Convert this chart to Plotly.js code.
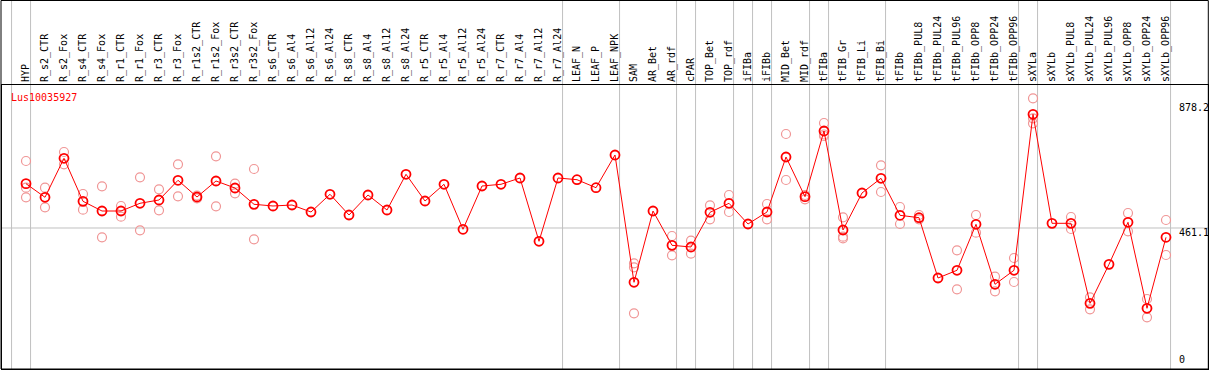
<!DOCTYPE html>
<html>
<head>
<meta charset="utf-8">
<script src="https://cdn.plot.ly/plotly-3.0.1.min.js"></script>
<style>html,body{margin:0;padding:0;background:#fff;}#chart{width:1209px;height:370px;}</style>
</head>
<body>
<div id="chart"></div>
<script>
// ---- data ----
const geneName = "Lus10035927";
const categories = ["HYP","R_s2_CTR","R_s2_Fox","R_s4_CTR","R_s4_Fox","R_r1_CTR","R_r1_Fox","R_r3_CTR","R_r3_Fox",
  "R_r1s2_CTR","R_r1s2_Fox","R_r3s2_CTR","R_r3s2_Fox","R_s6_CTR","R_s6_Al4","R_s6_Al12","R_s6_Al24",
  "R_s8_CTR","R_s8_Al4","R_s8_Al12","R_s8_Al24","R_r5_CTR","R_r5_Al4","R_r5_Al12","R_r5_Al24",
  "R_r7_CTR","R_r7_Al4","R_r7_Al12","R_r7_Al24","LEAF_N","LEAF_P","LEAF_NPK","SAM","AR_Bet","AR_rdf",
  "cPAR","TOP_Bet","TOP_rdf","iFIBa","iFIBb","MID_Bet","MID_rdf","tFIBa","tFIB_Gr","tFIB_Li","tFIB_Bi",
  "tFIBb","tFIBb_PUL8","tFIBb_PUL24","tFIBb_PUL96","tFIBb_OPP8","tFIBb_OPP24","tFIBb_OPP96",
  "sXYLa","sXYLb","sXYLb_PUL8","sXYLb_PUL24","sXYLb_PUL96","sXYLb_OPP8","sXYLb_OPP24","sXYLb_OPP96"];
const meanValues = [608.7,563.4,693.3,550.0,517.7,517.7,543.4,554.4,620.0,
  564.4,617.7,594.3,540.0,534.4,537.7,514.4,573.4,
  504.4,571.0,521.0,640.0,551.0,606.7,456.8,601.0,
  606.7,627.7,416.8,627.7,622.0,595.3,704.3,280.2,517.7,403.4,
  397.8,513.4,543.4,474.4,514.4,697.6,565.4,784.2,454.4,577.7,626.7,
  503.4,495.4,294.5,320.2,473.4,273.5,320.2,
  839.9,476.7,476.7,210.2,340.1,480.1,193.6,430.1];
// individual replicate measurements
const repCategories = ["HYP","HYP","HYP","R_s2_CTR","R_s2_CTR","R_s2_Fox","R_s2_Fox","R_s4_CTR","R_s4_CTR",
  "R_s4_Fox","R_s4_Fox","R_r1_CTR","R_r1_CTR","R_r1_Fox","R_r1_Fox","R_r3_CTR","R_r3_CTR","R_r3_Fox","R_r3_Fox",
  "R_r1s2_CTR","R_r1s2_CTR","R_r1s2_Fox","R_r1s2_Fox","R_r3s2_CTR","R_r3s2_CTR","R_r3s2_Fox","R_r3s2_Fox",
  "SAM","SAM","SAM","AR_rdf","AR_rdf","cPAR","cPAR","TOP_Bet","TOP_Bet","TOP_rdf","TOP_rdf","iFIBb","iFIBb",
  "MID_Bet","MID_Bet","MID_rdf","MID_rdf","tFIBa","tFIBa","tFIBa","tFIB_Gr","tFIB_Gr","tFIB_Gr","tFIB_Bi","tFIB_Bi",
  "tFIBb","tFIBb","tFIBb_PUL8","tFIBb_PUL8","tFIBb_PUL96","tFIBb_PUL96","tFIBb_OPP8","tFIBb_OPP8",
  "tFIBb_OPP24","tFIBb_OPP24","tFIBb_OPP96","tFIBb_OPP96","sXYLa","sXYLa","sXYLa",
  "sXYLb_PUL8","sXYLb_PUL8","sXYLb_PUL24","sXYLb_PUL24","sXYLb_OPP8","sXYLb_OPP8",
  "sXYLb_OPP24","sXYLb_OPP24","sXYLb_OPP96","sXYLb_OPP96"];
const repValues = [684.3,595.3,563.4,595.3,530.0,714.3,673.3,574.4,522.0,
  600.0,430.1,534.4,498.7,630.0,453.4,590.0,520.0,673.3,566.7,
  569.4,559.4,700.0,533.4,608.7,576.7,657.6,423.4,
  343.5,330.2,176.9,434.4,370.1,418.8,375.5,536.7,490.1,571.0,514.4,541.0,490.1,
  774.2,621.0,571.0,556.7,810.9,772.6,767.6,496.7,432.1,426.8,670.0,581.0,
  531.0,474.4,504.4,490.1,386.8,256.9,504.4,445.4,
  298.8,250.2,361.1,281.2,893.2,826.5,809.9,
  497.7,457.7,230.2,190.2,511.0,450.1,
  224.5,163.6,487.7,371.1];
// number of samples in each tissue group (separated by grey lines)
const groupSizes = [1,28,3,3,1,2,1,1,2,1,3,7,1,7];
const axisLabels = [878.2, 461.1, 0];
const refLine = 461.1;

// ---- layout helpers ----
const W = 1209, H = 370;
const mL = 2, mR = 1, mT = 85, mB = 1;
const plotH = H - mT - mB;
const grey = "rgb(192,192,192)";
const mono = "DejaVu Sans Mono, monospace";

const shapes = [];
// group separators
let edge = -1;
const seps = [edge];
groupSizes.forEach(g => { edge += g; seps.push(edge); });
seps.forEach(s => {
  shapes.push({type:"line", xref:"x", yref:"paper", x0:s+0.24, x1:s+0.24, y0:0, y1:(plotH+mT)/plotH,
    line:{color:grey, width:1}, layer:"below"});
});
// reference line
shapes.push({type:"line", xref:"paper", yref:"y", x0:0, x1:1, y0:refLine, y1:refLine,
  line:{color:grey, width:1}, layer:"below"});
// outer frame
shapes.push({type:"rect", xref:"paper", yref:"paper", x0:-1/1206, x1:1+0.3/1206, y0:0, y1:(plotH+mT-0.5)/plotH,
  line:{color:"#000", width:1}, fillcolor:"rgba(0,0,0,0)"});

const annotations = [
  {xref:"paper", yref:"paper", x:7/1206, y:(H-mB-97)/plotH, xanchor:"left", yanchor:"middle",
   text:geneName, showarrow:false, font:{family:mono, size:10, color:"red"}}
];
axisLabels.forEach(v => {
  annotations.push({xref:"paper", yref:"y", x:(1178-mL)/1206, y:v, xanchor:"left",
    yanchor: v === 0 ? "bottom" : "top", yshift: v === 0 ? 0 : 2, text:String(v), showarrow:false,
    font:{family:mono, size:10, color:"#000"}, borderpad:0});
});

const traces = [
  {type:"scatter", mode:"markers", x:repCategories, y:repValues,
   marker:{symbol:"circle-open", size:9, color:"rgb(240,150,150)", line:{width:1.2}}, hoverinfo:"skip"},
  {type:"scatter", mode:"lines+markers", x:categories, y:meanValues,
   line:{color:"red", width:1},
   marker:{symbol:"circle-open", size:9, color:"red", line:{width:1.8}}, hoverinfo:"skip"}
];

const layout = {
  width:W, height:H, showlegend:false,
  paper_bgcolor:"#fff", plot_bgcolor:"#fff",
  margin:{l:mL, r:mR, t:mT, b:mB, autoexpand:false},
  xaxis:{type:"category", categoryorder:"array", categoryarray:categories,
    range:[(mL-26)/19, (W-mR-26)/19], side:"top", tickangle:-90,
    tickfont:{family:mono, size:10, color:"#000"}, showgrid:false, zeroline:false,
    ticks:"", showline:true, mirror:true, linecolor:"#000", linewidth:1, fixedrange:true},
  yaxis:{range:[(366.4-(H-mB))*3.3315, (366.4-mT)*3.3315], showticklabels:false, ticks:"",
    showgrid:false, zeroline:false, showline:true, mirror:true, linecolor:"#000", linewidth:1, fixedrange:true},
  shapes:shapes, annotations:annotations
};

Plotly.newPlot("chart", traces, layout, {displayModeBar:false, staticPlot:true});
</script>
</body>
</html>
